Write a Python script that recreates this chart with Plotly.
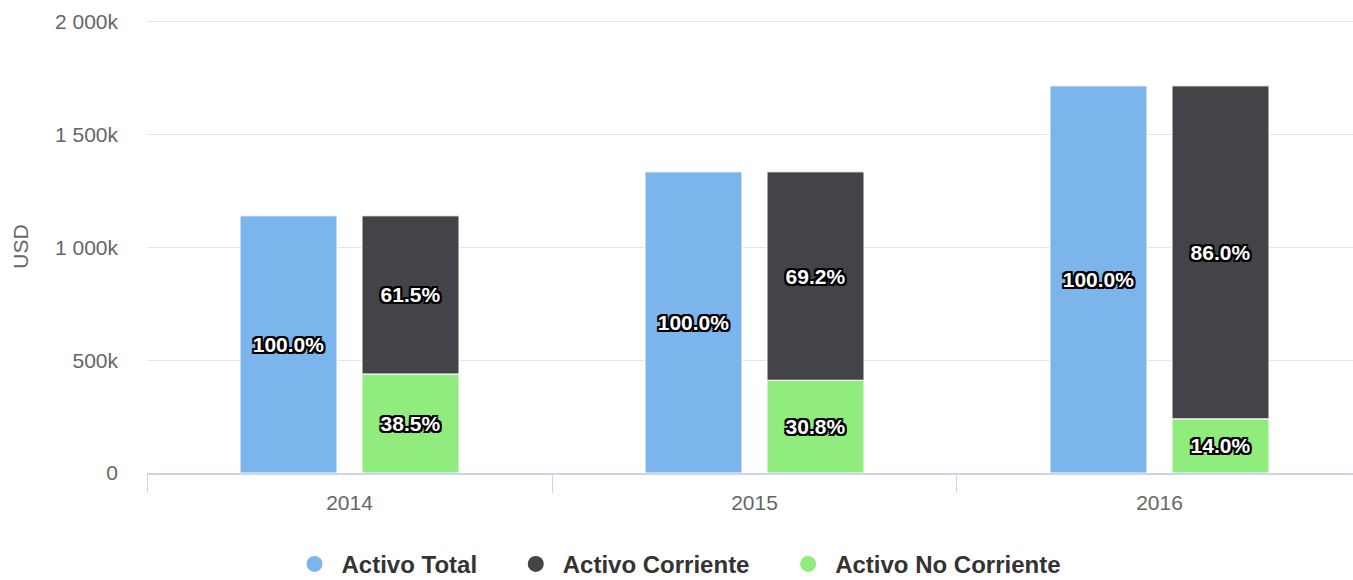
import plotly.graph_objects as go

years = ["2014", "2015", "2016"]
activo_total = [1140, 1335, 1716]          # thousands USD
activo_corriente = [701, 924, 1476]
activo_no_corriente = [439, 411, 240]
pct_total = [100.0, 100.0, 100.0]
pct_corriente = [61.5, 69.2, 86.0]
pct_no_corriente = [38.5, 30.8, 14.0]

y_tickvals = [0, 500, 1000, 1500, 2000]
y_ticktext = ["0", "500k", "1 000k", "1 500k", "2 000k"]

colors = {"total": "#7cb5ec", "corr": "#434348", "nocorr": "#90ed7d"}
FONT = "Liberation Sans, Arial, Helvetica, sans-serif"
outline = ("-2px -2px 0 #000, 2px -2px 0 #000, -2px 2px 0 #000, 2px 2px 0 #000, "
           "0 2px 0 #000, 0 -2px 0 #000, 2px 0 0 #000, -2px 0 0 #000")
label_font = dict(family=FONT, size=21, color="white", weight="bold", shadow=outline)

def fmt(vals):
    return [f"{v:.1f}%" for v in vals]

fig = go.Figure()
fig.add_trace(go.Bar(
    x=years, y=activo_total, offsetgroup="a", name="Activo Total",
    marker=dict(color=colors["total"], line=dict(color="white", width=1)),
    text=fmt(pct_total), textposition="inside", insidetextanchor="middle",
    textangle=0, textfont=label_font, showlegend=False, hoverinfo="skip"))
fig.add_trace(go.Bar(
    x=years, y=activo_no_corriente, offsetgroup="b", name="Activo No Corriente",
    marker=dict(color=colors["nocorr"], line=dict(color="white", width=1)),
    text=fmt(pct_no_corriente), textposition="inside", insidetextanchor="middle",
    textangle=0, textfont=label_font, showlegend=False, hoverinfo="skip"))
fig.add_trace(go.Bar(
    x=years, y=activo_corriente, base=activo_no_corriente, offsetgroup="b",
    name="Activo Corriente",
    marker=dict(color=colors["corr"], line=dict(color="white", width=1)),
    text=fmt(pct_corriente), textposition="inside", insidetextanchor="middle",
    textangle=0, textfont=label_font, showlegend=False, hoverinfo="skip"))

PAD = "\u00a0" * 4
for name, key in [("Activo Total", "total"), ("Activo Corriente", "corr"),
                  ("Activo No Corriente", "nocorr")]:
    fig.add_trace(go.Scatter(x=[None], y=[None], mode="markers", name=name + PAD,
                             marker=dict(symbol="circle", size=16, color=colors[key])))

fig.update_layout(
    width=1353, height=580,
    margin=dict(l=147, r=0, t=20, b=107, autoexpand=False),
    paper_bgcolor="white", plot_bgcolor="white",
    barmode="group", bargap=0.3975, bargroupgap=0.205,
    font=dict(family=FONT, color="#666666"),
    showlegend=True,
    legend=dict(orientation="h", xref="container", yref="container",
                x=0.51, xanchor="center", y=0.027, yanchor="middle",
                font=dict(family=FONT, size=24, color="#333333", weight="bold"),
                itemwidth=44, itemsizing="trace", traceorder="normal"),
    xaxis=dict(type="category", categoryorder="array", categoryarray=years,
               range=[-0.5, 2.4778], tickson="boundaries", ticks="outside",
               ticklen=18, tickcolor="#ccd6eb", tickwidth=1,
               showline=True, linecolor="#ccd6eb", linewidth=2,
               ticklabelstandoff=10, automargin=False,
               showgrid=False, tickfont=dict(size=21, color="#666666")),
    yaxis=dict(range=[0, 2008], tickvals=y_tickvals, ticktext=y_ticktext,
               showgrid=True, gridcolor="#e6e6e6", gridwidth=1,
               zeroline=False, showline=False, ticks="",
               ticklabelstandoff=28, automargin=False,
               tickfont=dict(size=21, color="#666666"),
               title=dict(text="USD", font=dict(size=21, color="#666666"), standoff=20)),
)

fig.write_html("out.html", config={"displayModeBar": False},
               post_script="document.body.style.margin='0';document.body.style.overflow='hidden';")
